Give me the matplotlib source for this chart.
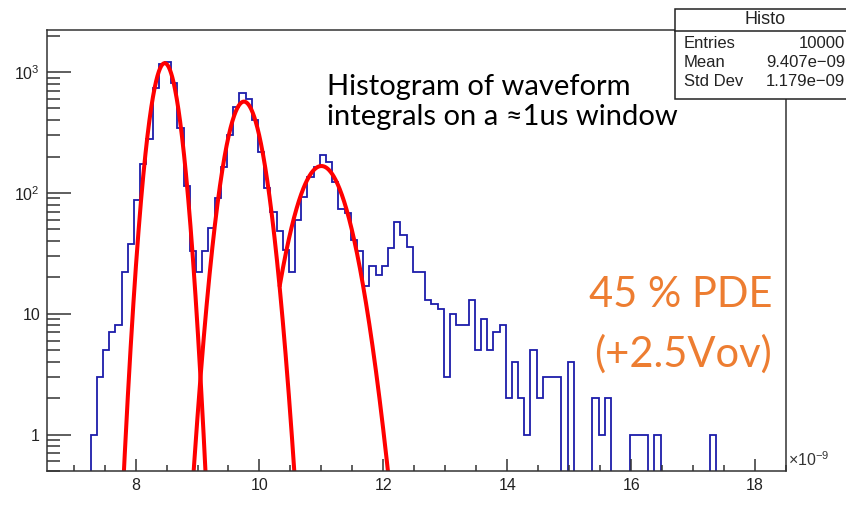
import matplotlib
matplotlib.use('Agg')
import matplotlib.pyplot as plt
from matplotlib.ticker import MultipleLocator, FixedLocator, LogLocator, NullFormatter
import numpy as np

plt.rcParams['font.family'] = ['Liberation Sans', 'DejaVu Sans']
plt.rcParams['mathtext.default'] = 'regular'

# histogram: first non-empty bin edge, bin width (units of 1e-9)
first_edge = 7.275
bin_width = 0.1
counts = [1, 3, 5, 7, 8, 22, 38, 87, 173, 280,
          744, 1170, 1208, 809, 343, 114, 33, 22, 33, 51,
          90, 165, 302, 518, 668, 600, 400, 219, 109, 70,
          48, 34, 22, 60, 93, 135, 165, 205, 180, 124,
          74, 68, 41, 33, 17, 25, 21, 25, 35, 58,
          45, 36, 22, 22, 13, 12, 11, 3, 10, 8,
          8, 13, 5, 9, 5, 7, 8, 2, 4, 2,
          1, 5, 2, 3, 3, 3, 0, 4, 0, 0,
          0, 2, 1, 2, 0, 0, 0, 1, 1, 1,
          0, 1, 0, 0, 0, 0, 0, 0, 0, 0,
          1]
hist_lo, hist_hi = 6.575, 18.475

# gaussian fits: amplitude, mean, sigma, drawing range
fit_amp = [1186, 570, 167]
fit_mean = [8.47, 9.75, 11.0]
fit_sigma = [0.167, 0.2165, 0.315]
fit_range = [(7.6, 9.4), (8.6, 10.9), (10.33, 12.4)]

stats_rows = [('Entries', '10000'), ('Mean', '9.407e\u221209'), ('Std Dev', '1.179e\u221209')]

W, H = 846, 512
fig = plt.figure(figsize=(W / 100, H / 100), dpi=100)
ax = fig.add_axes([47 / W, 1 - 471 / H, (786 - 47) / W, (471 - 30) / H])

n_pre = int(round((first_edge - hist_lo) / bin_width))
n_tot = int(round((hist_hi - hist_lo) / bin_width))
vals = np.zeros(n_tot)
vals[n_pre:n_pre + len(counts)] = counts
edges = hist_lo + bin_width * np.arange(n_tot + 1)
vals = np.where(vals > 0, vals, 1e-3)
ax.stairs(vals, edges, color='#1c1caa', lw=1.3, baseline=None)

for a, m, s, (lo, hi) in zip(fit_amp, fit_mean, fit_sigma, fit_range):
    xs = np.linspace(lo, hi, 400)
    ax.plot(xs, a * np.exp(-0.5 * ((xs - m) / s) ** 2), color='red', lw=2.9)

ax.set_yscale('log')
ax.set_xlim(6.57, 18.5)
ax.set_ylim(0.5, 2230)

ax.xaxis.set_major_locator(MultipleLocator(2))
ax.xaxis.set_minor_locator(MultipleLocator(0.5))
ax.yaxis.set_major_locator(FixedLocator([1, 10, 100, 1000]))
ax.set_yticklabels(['1', '10', '$10^{2}$', '$10^{3}$'])
ax.yaxis.set_minor_locator(LogLocator(base=10, subs=np.arange(2, 10)))
ax.yaxis.set_minor_formatter(NullFormatter())

ax.tick_params(axis='x', which='major', direction='in', length=8.6, width=1.1,
               color='#333333', labelsize=11.5, labelcolor='#222222', pad=5)
ax.tick_params(axis='x', which='minor', direction='in', length=4.3, width=1.1, color='#333333')
ax.tick_params(axis='y', which='major', direction='in', length=17, width=1.1,
               color='#333333', labelsize=11.5, labelcolor='#222222', pad=5)
ax.tick_params(axis='y', which='minor', direction='in', length=9.3, width=1.1, color='#333333')
for sp in ax.spines.values():
    sp.set_linewidth(1.1)
    sp.set_color('#333333')

fig.text(788 / W, 1 - 469 / H, r'$\times10^{-9}$', fontsize=11.5, color='#333333',
         ha='left', va='bottom')

# stats box
bx0, by0, bx1, by1 = 675, 9, 860, 99
fig.patches.append(plt.Rectangle((bx0 / W, 1 - by1 / H), (bx1 - bx0) / W, (by1 - by0) / H,
                                 transform=fig.transFigure, facecolor='white',
                                 edgecolor='#222222', lw=1.1, zorder=5))
fig.add_artist(plt.Line2D([bx0 / W, bx1 / W], [1 - 31 / H, 1 - 31 / H],
                          transform=fig.transFigure, color='#222222', lw=1.1, zorder=6))
fig.text(765 / W, 1 - 20 / H, 'Histo', ha='center', va='center', fontsize=13,
         color='#222222', zorder=7)
for i, (name, val) in enumerate(stats_rows):
    yy = 1 - (44 + 18.5 * i) / H
    fig.text(684 / W, yy, name, ha='left', va='center', fontsize=12, color='#222222', zorder=7)
    fig.text(845 / W, yy, val, ha='right', va='center', fontsize=12, color='#222222', zorder=7)

fig.text(327 / W, 1 - 102 / H, 'Histogram of waveform\nintegrals on a \u22481us window',
         ha='left', va='center', fontsize=21, family=['Lato', 'DejaVu Sans'],
         linespacing=1.2, color='black')
fig.text(772 / W, 1 - 307 / H, '45 % PDE', ha='right', va='baseline', fontsize=30,
         family=['Lato', 'DejaVu Sans'], color='#ED7D31')
fig.text(772 / W, 1 - 367 / H, '(+2.5Vov)', ha='right', va='baseline', fontsize=30,
         family=['Lato', 'DejaVu Sans'], color='#ED7D31')

fig.savefig('out.png', dpi=100)
